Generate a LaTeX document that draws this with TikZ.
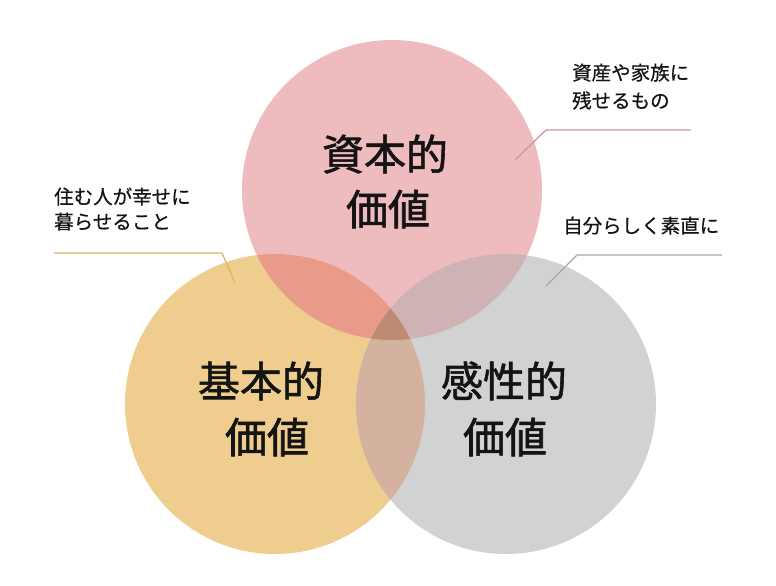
\documentclass[tikz,border=0pt]{standalone}
\usepackage{fontspec}
\newfontfamily\jp[FakeBold=0.5]{Noto Sans CJK JP}
\newfontfamily\jpbig[FakeBold=1.4]{Noto Sans CJK JP}
\definecolor{pinkc}{HTML}{EEBBBF}
\definecolor{orangec}{HTML}{EFCD8F}
\definecolor{grayc}{HTML}{D1D2D2}
\definecolor{po}{HTML}{E89B88}
\definecolor{pg}{HTML}{CFB2B3}
\definecolor{og}{HTML}{D5B1A0}
\definecolor{pog}{HTML}{BD8B72}
\definecolor{pinkline}{HTML}{D4959B}
\definecolor{goldline}{HTML}{D9B86C}
\definecolor{grayline}{HTML}{A6A6A6}
\definecolor{ink}{HTML}{141414}
\tikzset{
  bigtext/.style={font=\jpbig\fontsize{42}{50}\selectfont, text=ink, inner sep=0pt, anchor=base},
  smalltext/.style={font=\jp\fontsize{19.5}{28}\selectfont, text=ink, inner sep=0pt, anchor=base west, align=left},
  leader/.style={line width=1.3pt},
}
\begin{document}
\begin{tikzpicture}[x=1pt,y=-1pt]
\useasboundingbox (0,0) rectangle (776,586);
\fill[white] (0,0) rectangle (776,586);
% circle centres
\coordinate (P) at (392,190);
\coordinate (O) at (275,404);
\coordinate (G) at (506,404);
\def\R{150}
% base fills
\fill[pinkc] (P) circle (\R);
\fill[orangec] (O) circle (\R);
\fill[grayc] (G) circle (\R);
% pairwise overlaps
\begin{scope}
  \clip (P) circle (\R);
  \fill[po] (O) circle (\R);
  \fill[pg] (G) circle (\R);
\end{scope}
\begin{scope}
  \clip (O) circle (\R);
  \fill[og] (G) circle (\R);
  \clip (G) circle (\R);
  \fill[pog] (P) circle (\R);
\end{scope}
% big labels
\node[bigtext] (capA1) at (385,170) {資本的};
\node[bigtext] (capA2) at (388,225) {価値};
\node[bigtext] (basA1) at (261,397) {基本的};
\node[bigtext] (basA2) at (267,453) {価値};
\node[bigtext] (senA1) at (504,397) {感性的};
\node[bigtext] (senA2) at (505,453) {価値};
% small notes (base anchor = last line baseline)
\node[smalltext] (noteP) at (572,108) {資産や家族に\\残せるもの};
\node[smalltext, font=\jp\fontsize{19.5}{25}\selectfont] (noteO) at (54,229) {住む人が幸せに\\暮らせること};
\node[smalltext] (noteG) at (563,233) {自分らしく素直に};
% leader lines
\coordinate (lp1) at (515,160);
\coordinate (lp2) at (546,130);
\coordinate (lp3) at (691,130);
\coordinate (lo1) at (54,253);
\coordinate (lo2) at (222,253);
\coordinate (lo3) at (235,283);
\coordinate (lg1) at (546,286);
\coordinate (lg2) at (577,255);
\coordinate (lg3) at (722,255);
\draw[leader, pinkline] (lp1) -- (lp2) -- (lp3);
\draw[leader, goldline] (lo1) -- (lo2) -- (lo3);
\draw[leader, grayline] (lg1) -- (lg2) -- (lg3);
\end{tikzpicture}
\end{document}
